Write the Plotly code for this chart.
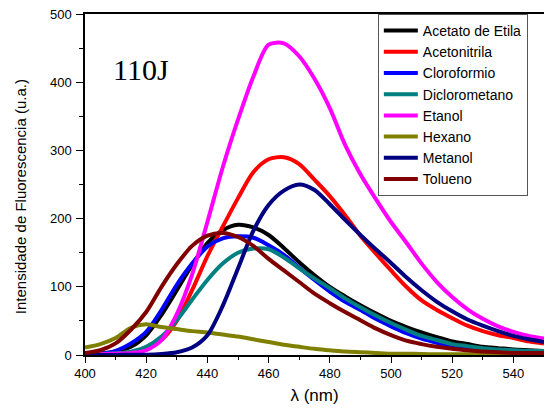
import plotly.graph_objects as go

# Emission wavelength grid (nm)
wavelength = list(range(400, 551, 5))

acetato_de_etila = [1, 2, 5, 12, 29, 59, 95, 132, 164, 183, 191, 187, 176, 157, 136, 117,
                    100, 86, 73, 61, 50, 41, 33, 26, 20, 16, 12, 10, 8, 7, 6]
acetonitrila = [1, 1, 2, 4, 9, 22, 50, 95, 145, 188, 230, 268, 287, 290, 280, 257,
                233, 205, 175, 149, 124, 100, 80, 66, 54, 43, 35, 29, 25, 20, 17]
cloroformio = [1, 2, 6, 17, 34, 66, 103, 134, 159, 171, 174, 172, 161, 147, 128, 110,
               93, 78, 66, 53, 42, 32, 24, 18, 13, 10, 8, 6, 5, 4, 4]
diclorometano = [1, 1.5, 2.5, 5, 12, 27, 51, 81, 110, 134, 150, 156, 155, 143, 127, 112,
                 98, 83, 70, 58, 47, 37, 28, 22, 16, 13, 10, 8, 7, 6, 6]
etanol = [1, 1, 2, 3, 7, 22, 60, 118, 195, 275, 345, 408, 455, 457, 438, 405,
          362, 308, 265, 229, 195, 165, 134, 107, 85, 67, 53, 42, 34, 28, 24]
hexano = [11, 16, 25, 40, 45, 41, 38, 35, 33, 30, 27, 23, 19, 15, 12, 9,
          7, 5, 4, 3, 2, 2, 1.5, 1, 1, 1, 1, 1, 1, 1, 1]
metanol = [0, 0, 0, 0.5, 0.5, 1.5, 4, 11, 29, 72, 127, 182, 220, 241, 250, 242,
           221, 198, 176, 155, 135, 114, 95, 78, 64, 52, 43, 35, 28, 23, 19]
tolueno = [3, 7, 17, 37, 63, 100, 133, 160, 175, 179, 173, 160, 141, 124, 107, 90,
           76, 63, 51, 39, 29, 21, 16, 12, 9, 7, 5, 4, 3, 3, 3]

series = [
    ("Acetato de Etila", acetato_de_etila, "#000000"),
    ("Acetonitrila", acetonitrila, "#ff0000"),
    ("Cloroformio", cloroformio, "#0000ff"),
    ("Diclorometano", diclorometano, "#008080"),
    ("Etanol", etanol, "#ff00ff"),
    ("Hexano", hexano, "#808000"),
    ("Metanol", metanol, "#000080"),
    ("Tolueno", tolueno, "#800000"),
]

fig = go.Figure()
for name, values, color in series:
    fig.add_trace(go.Scatter(
        x=wavelength, y=values, name=name, mode="lines",
        line=dict(color=color, width=4, shape="spline", smoothing=0.8),
    ))

font_family = "Liberation Sans, Arial, sans-serif"

fig.update_layout(
    width=544, height=410,
    margin=dict(l=85, r=0, t=14, b=55),
    plot_bgcolor="white", paper_bgcolor="white",
    font=dict(family=font_family, size=13, color="black"),
    showlegend=True,
    legend=dict(
        x=0.638, y=1, xanchor="left", yanchor="top",
        bgcolor="white", bordercolor="#555555", borderwidth=1,
        font=dict(family=font_family, size=14, color="black"),
        tracegroupgap=0, itemwidth=34,
    ),
    xaxis=dict(
        range=[400, 550], dtick=20, tick0=400,
        showline=True, linecolor="black", linewidth=1.5, mirror=True,
        ticks="outside", ticklen=6, tickwidth=1, tickcolor="black",
        minor=dict(dtick=10, ticks="outside", ticklen=3.5, tickcolor="black"),
        showgrid=False, zeroline=False,
        tickfont=dict(size=13),
        title=dict(text="λ (nm)", font=dict(size=17), standoff=9),
    ),
    yaxis=dict(
        range=[0, 500], dtick=100, tick0=0,
        showline=True, linecolor="black", linewidth=1.5,
        ticks="outside", ticklen=7, tickwidth=1, tickcolor="black",
        minor=dict(dtick=50, ticks="outside", ticklen=4, tickcolor="black"),
        showgrid=False, zeroline=False,
        tickfont=dict(size=13), ticklabelstandoff=2,
    ),
)

# Vertical axis title
fig.add_annotation(
    text="Intensidade de Fluorescencia (u.a.)", textangle=-90,
    x=-0.14, y=0.465, xref="paper", yref="paper",
    xanchor="center", yanchor="middle", showarrow=False,
    font=dict(family=font_family, size=15, color="black"),
)

fig.add_annotation(
    text="110J", x=0.121, y=0.838, xref="paper", yref="paper",
    xanchor="center", yanchor="middle", showarrow=False,
    font=dict(family="Liberation Serif, Times New Roman, serif", size=30, color="black"),
)

fig.write_html("out.html")
